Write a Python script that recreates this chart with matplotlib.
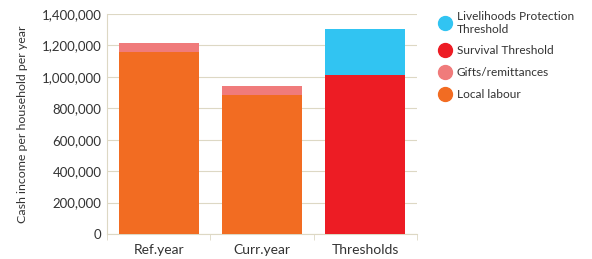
import matplotlib.pyplot as plt
from matplotlib.lines import Line2D
from matplotlib.ticker import FuncFormatter

categories = ['Ref.year', 'Curr.year', 'Thresholds']
local_labour = [1158000, 884000, 0]
gifts = [57000, 58000, 0]
survival = [0, 0, 1010000]
lp_extra = [0, 0, 294000]

c_local = '#F26C22'
c_gifts = '#F07B7B'
c_surv = '#ED1C24'
c_lp = '#31C4F2'
grid_c = '#DDD8C4'

plt.rcParams['font.family'] = ['Lato', 'DejaVu Sans']

fig = plt.figure(figsize=(5.92, 2.59), dpi=100)
ax = fig.add_axes([107 / 592, 25 / 259, 310 / 592, 220 / 259])

x = range(len(categories))
w = 0.775
ax.bar(x, local_labour, w, color=c_local, zorder=3)
ax.bar(x, gifts, w, bottom=local_labour, color=c_gifts, zorder=3)
ax.bar(x, survival, w, color=c_surv, zorder=3)
ax.bar(x, lp_extra, w, bottom=survival, color=c_lp, zorder=3)

ax.set_xlim(-0.5, 2.5)
ax.set_ylim(0, 1400000)
ax.set_yticks(range(0, 1400001, 200000))
ax.yaxis.set_major_formatter(FuncFormatter(lambda v, p: f'{int(v):,}'))
ax.grid(axis='y', color=grid_c, linewidth=0.8, zorder=0)

ax.set_xticks([0, 1, 2])
ax.set_xticklabels(categories, fontsize=10, color='#333333')
ax.set_xticks([-0.5, 0.5, 1.5, 2.5], minor=True)
ax.tick_params(axis='x', which='major', length=0, pad=7)
ax.tick_params(axis='x', which='minor', length=4, color=grid_c)
ax.tick_params(axis='y', length=0, labelsize=9.5, labelcolor='#333333', pad=4)

for s in ['top', 'right']:
    ax.spines[s].set_visible(False)
for s in ['left', 'bottom']:
    ax.spines[s].set_color(grid_c)

ax.set_ylabel('Cash income per household per year', fontsize=8.9, color='#333333', labelpad=10)

handles = [Line2D([], [], marker='o', linestyle='', markersize=10, color=c)
           for c in [c_lp, c_surv, c_gifts, c_local]]
labels = ['Livelihoods Protection\nThreshold', 'Survival Threshold', 'Gifts/remittances', 'Local labour']
fig.legend(handles, labels, loc='upper left', bbox_to_anchor=(428 / 592, 1.0),
           frameon=False, fontsize=8.6, handletextpad=0.5, labelspacing=0.9,
           handlelength=1.0, labelcolor='#333333')

fig.savefig('out.png', dpi=100)
